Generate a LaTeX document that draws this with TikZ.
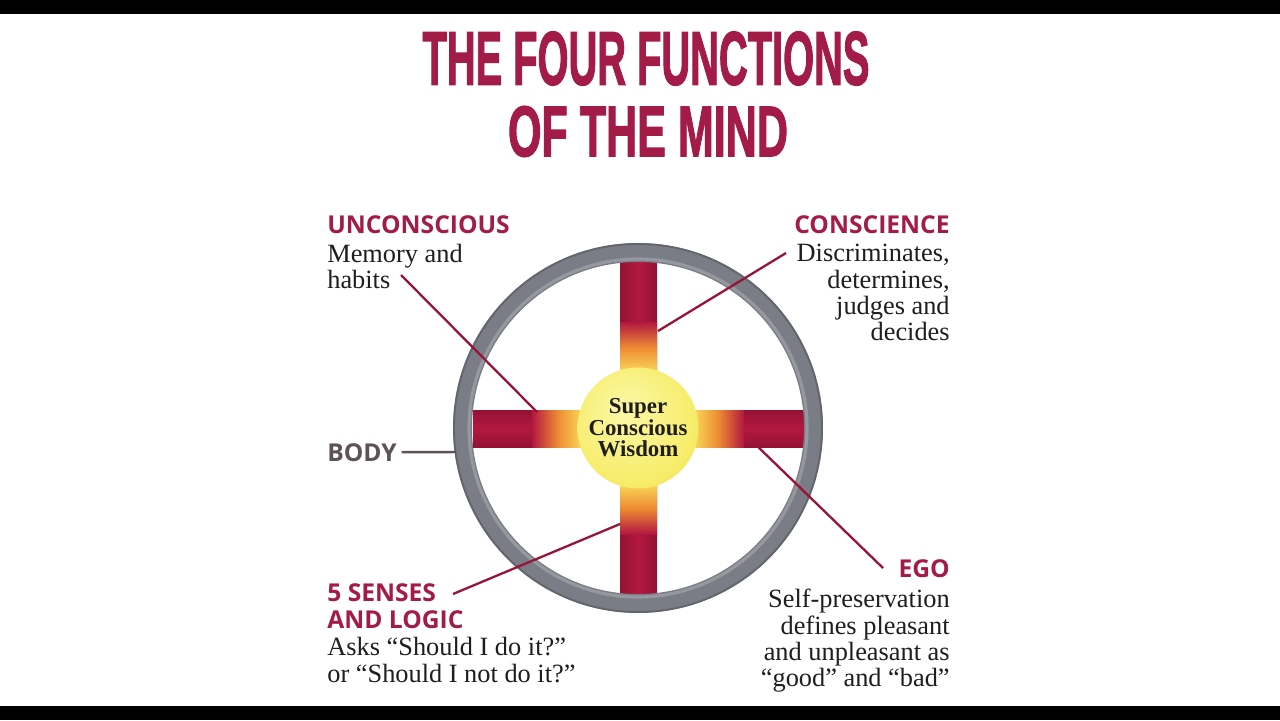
\documentclass[tikz,border=0pt]{standalone}
\usepackage{fontspec}
\usepackage{graphicx}
\setmainfont{Liberation Serif}
\newfontfamily\headfont{Open Sans}
\newfontfamily\titlefont{Liberation Sans}[FakeBold=2]
\usetikzlibrary{positioning}

\definecolor{titlered}{RGB}{163,27,71}
\definecolor{spokered}{RGB}{178,24,64}
\definecolor{spokedark}{RGB}{148,18,52}
\definecolor{gloworange}{RGB}{238,140,52}
\definecolor{glowyellow}{RGB}{250,222,92}
\definecolor{ringgray}{RGB}{122,124,134}
\definecolor{ringlight}{RGB}{150,152,160}
\definecolor{ringdark}{RGB}{98,100,110}
\definecolor{hublight}{RGB}{252,248,168}
\definecolor{hubmid}{RGB}{246,236,104}
\definecolor{hubdark}{RGB}{222,200,62}
\definecolor{bodygray}{RGB}{92,84,84}
\definecolor{inkdark}{RGB}{32,30,28}

\pgfdeclareradialshading{hubshade}{\pgfpoint{-6bp}{8bp}}{color(0bp)=(hublight); color(28bp)=(hubmid); color(50bp)=(hubdark); color(60bp)=(hubdark)}

\begin{document}
\begin{tikzpicture}[
		x=0.02cm, y=-0.02cm,
		title/.style={
				inner sep=0pt,
				text=titlered,
				font=\titlefont\bfseries
			},
		head/.style={
				inner sep=0pt,
				text=titlered,
				align=left,
				font=\headfont\bfseries\fontsize{14}{15.4}\selectfont
			},
		note/.style={
				inner sep=0pt,
				text=inkdark,
				font=\fontsize{15}{15}\selectfont
			},
		hub/.style={
				circle,
				shade,
				shading=hubshade,
				minimum size=2.42cm,
				inner sep=0pt,
				align=center,
				text=inkdark,
				font=\bfseries\fontsize{13}{12.2}\selectfont
			},
		hspoke/.style={
				top color=spokedark,
				bottom color=spokedark,
				middle color=spokered
			},
		vspoke/.style={
				left color=spokedark,
				right color=spokedark,
				middle color=spokered
			},
		ring/.style={
				draw=ringgray,
				line width=10.8pt
			},
		leader/.style={
				draw=spokered!85!black,
				line width=1.3pt
			},
		bodyline/.style={
				draw=bodygray,
				line width=1.4pt
			}
	]

	% ================= frame =================
	\useasboundingbox (0,0) rectangle (1280,720);
	\fill[white] (0,0) rectangle (1280,720);
	\fill[black] (0,0) rectangle (1280,14);
	\fill[black] (0,706) rectangle (1280,720);

	% ================= title =================
	\node[title] (title1) at (646,58.5)
	{\resizebox{8.94cm}{1.06cm}{THE FOUR FUNCTIONS}};
	\node[title] (title2) at (648,131.5)
	{\resizebox{5.6cm}{1.0cm}{OF THE MIND}};

	% ================= wheel =================
	\coordinate (wheel) at (638,428);

	% spokes
	\shade[hspoke] (473,410) rectangle (804,447);
	\shade[vspoke] (620,260) rectangle (657,597);

	% glow towards the hub
	\shade[left color=spokered, right color=glowyellow, middle color=gloworange]
	(532,410) rectangle (584,447);
	\shade[left color=glowyellow, right color=spokered, middle color=gloworange]
	(692,410) rectangle (744,447);
	\shade[top color=spokered, bottom color=glowyellow, middle color=gloworange]
	(620,322) rectangle (657,374);
	\shade[top color=glowyellow, bottom color=spokered, middle color=gloworange]
	(620,482) rectangle (657,534);

	% rim
	\draw[ring] (wheel) circle (175.5);
	\draw[draw=ringlight, line width=1.8pt] (wheel) circle (169);
	\draw[draw=ringdark, line width=1pt] (wheel) circle (184);

	% hub
	\node[hub] (hub) at (wheel) {Super\\Conscious\\Wisdom};

	% ================= labels =================
	\node[head, anchor=base west] (unchead) at (327,233) {UNCONSCIOUS};
	\node[note, anchor=north west, align=left] (unctext) at (327,244)
	{Memory and\\habits};

	\node[head, anchor=base east] (conhead) at (950,233) {CONSCIENCE};
	\node[note, anchor=north east, align=right] (context) at (950,244)
	{Discriminates,\\determines,\\judges and\\decides};

	\node[head, text=bodygray, anchor=base west] (bodylbl) at (327,461) {BODY};

	\node[head, anchor=north west] (senhead) at (327,583) {5 SENSES\\AND LOGIC};
	\node[note, anchor=north west, align=left] (sentext) at (327,637)
	{Asks “Should I do it?”\\or “Should I not do it?”};

	\node[head, anchor=base east] (egohead) at (950,577) {EGO};
	\node[note, anchor=north east, align=right] (egotext) at (950,589)
	{Self-preservation\\defines pleasant\\and unpleasant as\\“good” and “bad”};

	% ================= leader lines =================
	\coordinate (uncfoot) at (401,275);
	\coordinate (uncspoke) at (537,412);
	\coordinate (confoot) at (786,253);
	\coordinate (conspoke) at (658,331);
	\coordinate (egofoot) at (883,568);
	\coordinate (egospoke) at (754,443);
	\coordinate (senfoot) at (453,594);
	\coordinate (senspoke) at (620,524);
	\coordinate (rimleft) at (456,452);

	\draw[leader] (uncfoot) -- (uncspoke);
	\draw[leader] (confoot) -- (conspoke);
	\draw[leader] (egofoot) -- (egospoke);
	\draw[leader] (senfoot) -- (senspoke);
	\draw[bodyline, shorten <=2.5pt] (bodylbl.east) -- (rimleft);

\end{tikzpicture}
\end{document}
